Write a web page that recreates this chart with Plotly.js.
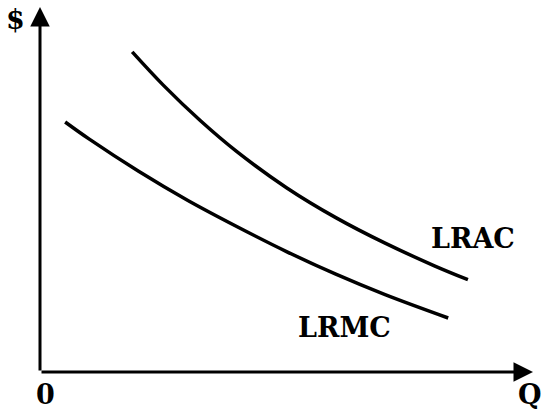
<!DOCTYPE html>
<html>
<head>
<meta charset="utf-8">
<script src="https://cdn.plot.ly/plotly-3.0.1.min.js"></script>
<style>html,body{margin:0;padding:0;background:#fff;}#chart{width:547px;height:413px;}</style>
</head>
<body>
<div id="chart"></div>
<script>
// Quantity (Q) and cost ($) values, arbitrary units
var lracQ = [1.87, 2.5, 3.25, 4.0, 5.0, 6.0, 7.0, 8.0, 8.68];
var lracC = [8.77, 7.86, 6.89, 6.03, 5.05, 4.23, 3.53, 2.91, 2.53];
var lrmcQ = [0.51, 1.0, 2.0, 3.0, 4.0, 5.0, 6.0, 7.0, 8.28];
var lrmcC = [6.85, 6.38, 5.50, 4.70, 3.98, 3.30, 2.68, 2.12, 1.48];
var curveLabels = ["LRAC", "LRMC"];
var axisLabels = {y: "$", x: "Q", origin: "0"};
var qMax = 10, cMax = 10;

var lineStyle = {color: "#000", width: 3.5, shape: "spline", smoothing: 1};
var traces = [
  {x: lracQ, y: lracC, mode: "lines", line: lineStyle, name: curveLabels[0], hoverinfo: "skip"},
  {x: lrmcQ, y: lrmcC, mode: "lines", line: lineStyle, name: curveLabels[1], hoverinfo: "skip"}
];

var fnt = {family: "DejaVu Serif", size: 27, color: "#000", weight: "bold"};
// labels positioned in axis units, converted to paper fractions so they may sit outside the plot
function label(txt, q, c, xa) {
  return {text: txt, x: q / qMax, y: c / cMax, xref: "paper", yref: "paper", showarrow: false,
    xanchor: xa || "center", yanchor: "middle", font: fnt};
}
function arrow(x0, y0, x1, y1) {
  return {x: x1, y: y1, ax: x0, ay: y0, xref: "x", yref: "y", axref: "x", ayref: "y",
    text: "", showarrow: true, arrowhead: 2, arrowsize: 1.3, arrowwidth: 3, arrowcolor: "#000", standoff: 0, startstandoff: 0};
}

var layout = {
  width: 547, height: 413,
  margin: {l: 40, r: 14, t: 7, b: 41},
  paper_bgcolor: "#fff", plot_bgcolor: "#fff",
  showlegend: false,
  xaxis: {range: [0, qMax], showgrid: false, zeroline: false, showline: false, showticklabels: false, ticks: ""},
  yaxis: {range: [0, cMax], showgrid: false, zeroline: false, showline: false, showticklabels: false, ticks: ""},
  annotations: [
    arrow(0, 0, qMax, 0),
    arrow(0, 0, 0, cMax),
    label(axisLabels.y, -0.49, 9.67),
    label(axisLabels.origin, 0.12, -0.63),
    label(axisLabels.x, 10.22, -0.63, "right"),
    label(curveLabels[0], 8.78, 3.67),
    label(curveLabels[1], 6.17, 1.23)
  ]
};

Plotly.newPlot("chart", traces, layout, {displayModeBar: false, staticPlot: true});
</script>
</body>
</html>
